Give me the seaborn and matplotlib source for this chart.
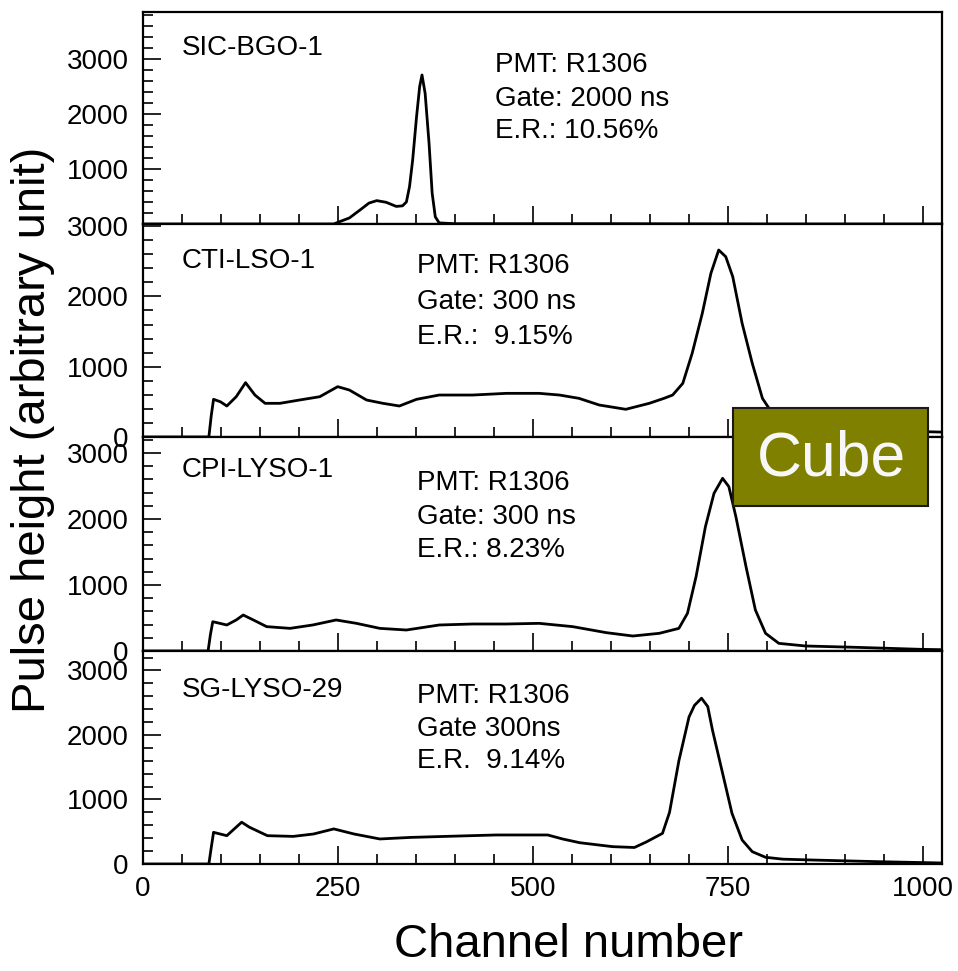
import matplotlib
matplotlib.use("Agg")
import matplotlib.pyplot as plt
import seaborn as sns
import pandas as pd
from matplotlib.patches import Rectangle
from matplotlib.ticker import MultipleLocator, FixedLocator

# ---------------- data ----------------
bgo_ch = [0, 245, 252, 265, 280, 290, 300, 312, 325, 333, 338, 342, 346, 351,
          355, 358, 362, 367, 371, 375, 380, 400, 600, 800, 1023]
bgo_val = [0, 0, 40, 110, 270, 380, 425, 395, 320, 330, 400, 680, 1160, 1950,
           2500, 2710, 2375, 1470, 560, 130, 20, 5, 5, 0, 0]

lso_ch = [0, 85, 88, 91, 100, 108, 120, 132, 144, 157, 176, 201, 227, 250, 265,
          287, 308, 329, 351, 380, 423, 466, 508, 534, 559, 585, 619, 649, 668,
          679, 692, 704, 717, 728, 738, 747, 756, 768, 781, 794, 810, 830, 860,
          900, 950, 1000, 1023]
lso_val = [0, 0, 300, 536, 500, 441, 573, 773, 597, 479, 479, 526, 573, 716, 668,
           526, 479, 441, 536, 597, 597, 621, 621, 597, 550, 455, 394, 479, 550,
           597, 763, 1190, 1760, 2328, 2660, 2565, 2280, 1617, 1048, 550, 280, 160,
           110, 90, 80, 76, 70]

cpi_ch = [0, 84, 87, 90, 108, 120, 129, 142, 159, 189, 218, 248, 274, 304, 338,
          380, 423, 466, 508, 551, 594, 628, 662, 687, 698, 709, 721, 732, 743,
          751, 760, 773, 785, 798, 815, 849, 913, 998, 1023]
cpi_val = [0, 0, 250, 444, 394, 470, 545, 470, 369, 343, 394, 470, 419, 343, 318,
           394, 409, 409, 419, 369, 278, 227, 268, 343, 571, 1126, 1884, 2389, 2616,
           2490, 2035, 1277, 621, 268, 116, 76, 56, 25, 20]

sg_ch = [0, 85, 88, 91, 108, 127, 137, 160, 193, 219, 245, 271, 304, 343, 388,
         453, 519, 538, 560, 602, 630, 645, 666, 675, 687, 700, 707, 716, 724,
         730, 743, 755, 768, 781, 798, 820, 857, 943, 1023]
sg_val = [0, 0, 250, 491, 439, 648, 570, 439, 428, 465, 544, 465, 388, 412, 428,
          450, 450, 388, 330, 269, 256, 340, 475, 800, 1600, 2280, 2460, 2570, 2440,
          2077, 1406, 786, 372, 191, 104, 75, 62, 36, 16]

crystals = ["SIC-BGO-1", "CTI-LSO-1", "CPI-LYSO-1", "SG-LYSO-29"]
info_lines = [
    ["PMT: R1306", "Gate: 2000 ns", "E.R.: 10.56%"],
    ["PMT: R1306", "Gate: 300 ns", "E.R.:  9.15%"],
    ["PMT: R1306", "Gate: 300 ns", "E.R.: 8.23%"],
    ["PMT: R1306", "Gate 300ns", "E.R.  9.14%"],
]
x_ticks = [0, 250, 500, 750, 1000]
x_tick_labels = ["0", "250", "500", "750", "1000"]

series = [(bgo_ch, bgo_val), (lso_ch, lso_val), (cpi_ch, cpi_val), (sg_ch, sg_val)]

# ---------------- style ----------------
sns.set_style("ticks")
plt.rcParams['font.family'] = ['Liberation Sans', 'DejaVu Sans']
plt.rcParams['text.color'] = 'black'
plt.rcParams['axes.labelcolor'] = 'black'
plt.rcParams['xtick.color'] = 'black'
plt.rcParams['ytick.color'] = 'black'
plt.rcParams['axes.edgecolor'] = 'black'

W, H = 958, 971
fig = plt.figure(figsize=(W / 100, H / 100), dpi=100)


def fx(px):
    return px / W


def fy(py):
    return 1 - py / H


left, right = 142.5, 942
bounds = [(12, 224), (224, 437), (437, 651), (651, 864)]
ymax = [3855, 3030, 3242, 3302]
label_base = [55, 268, 477, 697]
info_x = [495, 417, 417, 417]
info_base = [[72, 106, 138], [273, 309, 344], [490, 524, 557], [703, 736, 768]]

for i, ((ch, val), (top, bot)) in enumerate(zip(series, bounds)):
    ax = fig.add_axes([fx(left), fy(bot), fx(right) - fx(left), (bot - top) / H])
    df = pd.DataFrame({"channel": ch, "height": val})
    sns.lineplot(data=df, x="channel", y="height", ax=ax, color="black",
                 linewidth=2.0, estimator=None, sort=False)
    ax.set_xlim(0, 1024)
    ax.set_ylim(0, ymax[i])
    ax.set_xlabel("")
    ax.set_ylabel("")
    ax.xaxis.set_major_locator(FixedLocator(x_ticks))
    ax.xaxis.set_minor_locator(MultipleLocator(50))
    if i == 0:
        ax.yaxis.set_major_locator(FixedLocator([1000, 2000, 3000]))
    else:
        ax.yaxis.set_major_locator(MultipleLocator(1000))
    ax.yaxis.set_minor_locator(MultipleLocator(200))
    ax.tick_params(which="both", direction="in", top=False, right=False,
                   width=1.2, color="black", labelcolor="black")
    ax.tick_params(which="major", length=13, labelsize=20)
    ax.tick_params(which="minor", length=7)
    ax.tick_params(axis="y", pad=10)
    ax.tick_params(axis="x", pad=9)
    if i == 3:
        ax.set_xticklabels(x_tick_labels)
    else:
        ax.tick_params(axis="x", labelbottom=False)
    for sp in ax.spines.values():
        sp.set_linewidth(1.6)
        sp.set_color("black")
    ax.set_facecolor("white")

    fig.text(fx(182), fy(label_base[i]), crystals[i], fontsize=20, va="baseline",
             color="black")
    for line, b in zip(info_lines[i], info_base[i]):
        fig.text(fx(info_x[i]), fy(b), line, fontsize=20, va="baseline",
                 color="black")

fig.text(fx(568), fy(945), "Channel number", fontsize=34, ha="center",
         va="center", color="black")
fig.text(fx(33), fy(430), "Pulse height (arbitrary unit)", fontsize=34,
         rotation=90, ha="center", va="center", color="black")

rect = Rectangle((fx(733), fy(506)), (928 - 733) / W, (506 - 408) / H,
                 transform=fig.transFigure, facecolor="#808000",
                 edgecolor="#1a1a1a", linewidth=1.5, zorder=5)
fig.add_artist(rect)
fig.text(fx(831), fy(459), "Cube", color="#f7f7f7", fontsize=45,
         ha="center", va="center", zorder=6)

fig.savefig("out.png", dpi=100, facecolor="white")
